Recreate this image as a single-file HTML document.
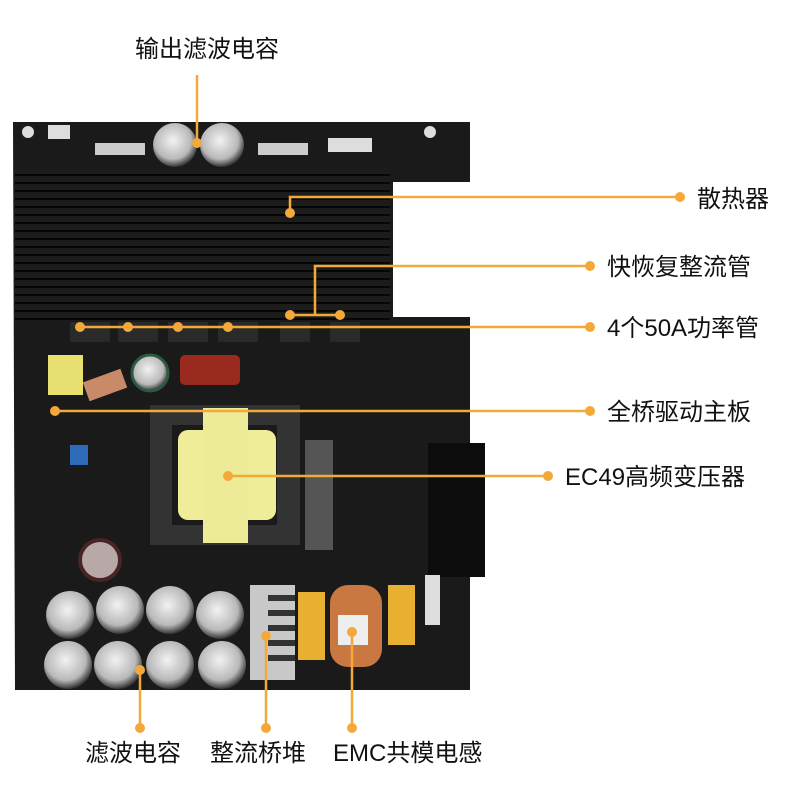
<!DOCTYPE html>
<html><head><meta charset="utf-8"><style>
body{margin:0;background:#fff;width:800px;height:800px;overflow:hidden}
svg{display:block}
text{font-family:"Liberation Sans","Noto Sans CJK SC",sans-serif;font-size:24px;fill:#111}
</style></head><body>
<svg width="800" height="800" viewBox="0 0 800 800">
<defs>
<pattern id="fins" width="10" height="8" patternUnits="userSpaceOnUse">
<rect width="10" height="8" fill="#1c1c1c"/><rect y="6" width="10" height="2" fill="#060606"/>
</pattern>
<radialGradient id="cap" cx="0.45" cy="0.4" r="0.6"><stop offset="0" stop-color="#f2f2f2"/><stop offset="0.7" stop-color="#b8b8b8"/><stop offset="1" stop-color="#333"/></radialGradient>
</defs>
<path d="M13 122 H470 V182 H393 V317 H470 V690 H15 Z" fill="#1a1a1a"/>
<rect x="15" y="168" width="375" height="152" fill="url(#fins)"/>
<rect x="428" y="443" width="57" height="134" fill="#0c0c0c"/>
<circle cx="430" cy="132" r="6" fill="#ddd"/><circle cx="28" cy="132" r="6" fill="#ddd"/>
<circle cx="175" cy="145" r="22" fill="url(#cap)"/><circle cx="222" cy="145" r="22" fill="url(#cap)"/>
<rect x="95" y="143" width="50" height="12" fill="#ccc"/><rect x="258" y="143" width="50" height="12" fill="#ccc"/>
<rect x="48" y="125" width="22" height="14" fill="#ddd"/><rect x="328" y="138" width="22" height="14" fill="#ddd"/><rect x="350" y="138" width="22" height="14" fill="#ddd"/>
<g fill="#2a2a2a"><rect x="70" y="322" width="40" height="20"/><rect x="118" y="322" width="40" height="20"/><rect x="168" y="322" width="40" height="20"/><rect x="218" y="322" width="40" height="20"/><rect x="280" y="322" width="30" height="20"/><rect x="330" y="322" width="30" height="20"/></g>
<rect x="150" y="405" width="150" height="140" fill="#333"/>
<rect x="172" y="425" width="105" height="100" fill="#1a1a1a"/>
<rect x="178" y="430" width="98" height="90" rx="10" fill="#f0ed9a"/>
<rect x="203" y="408" width="45" height="135" fill="#eeeb98"/>
<rect x="305" y="440" width="28" height="110" fill="#555"/>
<rect x="48" y="355" width="35" height="40" fill="#e8e070"/>
<rect x="85" y="375" width="40" height="20" fill="#c98a6a" transform="rotate(-20 105 385)"/>
<circle cx="150" cy="373" r="18" fill="url(#cap)" stroke="#2a5a40" stroke-width="3"/>
<rect x="180" y="355" width="60" height="30" rx="5" fill="#9a2a1e"/>
<rect x="70" y="445" width="18" height="20" fill="#2e6bb8"/>
<circle cx="100" cy="560" r="20" fill="#b8a8a8" stroke="#4a2424" stroke-width="4"/>
<g fill="url(#cap)"><circle cx="70" cy="615" r="24"/><circle cx="120" cy="610" r="24"/><circle cx="170" cy="610" r="24"/><circle cx="220" cy="615" r="24"/><circle cx="68" cy="665" r="24"/><circle cx="118" cy="665" r="24"/><circle cx="170" cy="665" r="24"/><circle cx="222" cy="665" r="24"/></g>
<rect x="250" y="585" width="45" height="95" fill="#c8c8c8"/>
<g fill="#333"><rect x="268" y="595" width="27" height="6"/><rect x="268" y="610" width="27" height="6"/><rect x="268" y="625" width="27" height="6"/><rect x="268" y="640" width="27" height="6"/><rect x="268" y="655" width="27" height="6"/></g>
<rect x="298" y="592" width="27" height="68" fill="#e8b030"/>
<rect x="388" y="585" width="27" height="60" fill="#e8b030"/>
<rect x="330" y="585" width="52" height="82" rx="18" fill="#c87840"/>
<rect x="338" y="615" width="30" height="30" fill="#eee"/>
<rect x="425" y="575" width="15" height="50" fill="#ddd"/>
<g stroke="#f5a83a" stroke-width="2.5" fill="none">
<path d="M197 75 V140"/><path d="M290 213 V197 H680"/><path d="M290 315 H340 M315 315 V266 H590"/>
<path d="M80 327 H590"/><path d="M55 411 H590"/><path d="M228 476 H548"/>
<path d="M140 670 V728"/><path d="M266 636 V728"/><path d="M352 632 V728"/>
</g>
<g fill="#f5a83a">
<circle cx="197" cy="143" r="5"/><circle cx="290" cy="213" r="5"/><circle cx="680" cy="197" r="5"/>
<circle cx="290" cy="315" r="5"/><circle cx="340" cy="315" r="5"/><circle cx="590" cy="266" r="5"/>
<circle cx="80" cy="327" r="5"/><circle cx="128" cy="327" r="5"/><circle cx="178" cy="327" r="5"/><circle cx="228" cy="327" r="5"/><circle cx="590" cy="327" r="5"/>
<circle cx="55" cy="411" r="5"/><circle cx="590" cy="411" r="5"/><circle cx="228" cy="476" r="5"/><circle cx="548" cy="476" r="5"/>
<circle cx="140" cy="670" r="5"/><circle cx="140" cy="728" r="5"/><circle cx="266" cy="636" r="5"/><circle cx="266" cy="728" r="5"/><circle cx="352" cy="632" r="5"/><circle cx="352" cy="728" r="5"/>
</g>
<text x="135" y="57">输出滤波电容</text>
<text x="697" y="207">散热器</text>
<text x="607" y="275">快恢复整流管</text>
<text x="607" y="336">4个50A功率管</text>
<text x="607" y="420">全桥驱动主板</text>
<text x="565" y="485">EC49高频变压器</text>
<text x="85" y="761">滤波电容</text>
<text x="210" y="761">整流桥堆</text>
<text x="333" y="761">EMC共模电感</text>
</svg>
</body></html>
